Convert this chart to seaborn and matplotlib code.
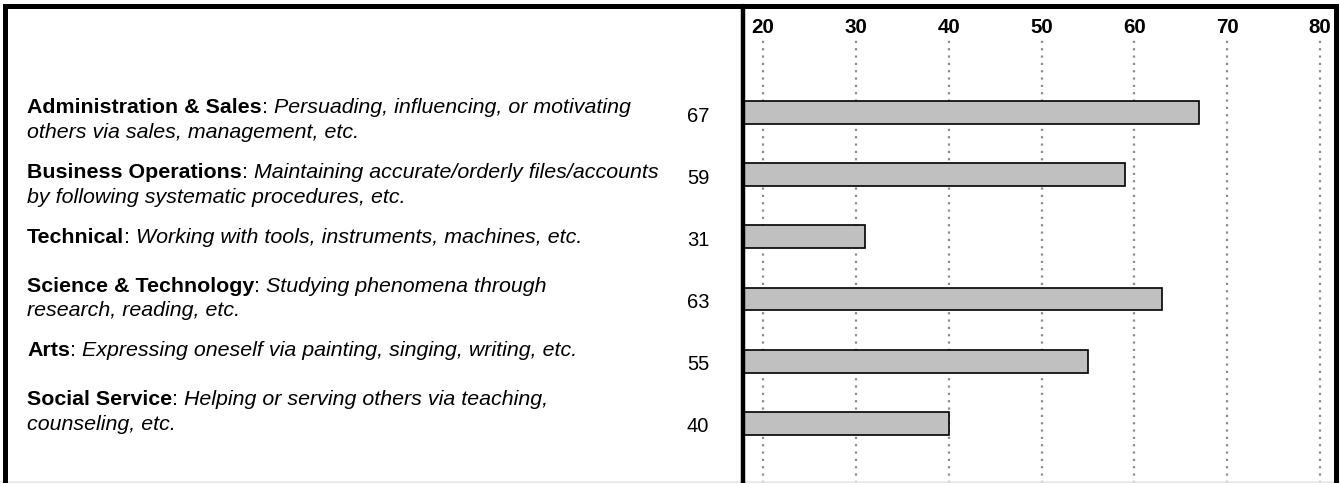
import numpy as np
import pandas as pd
import matplotlib.pyplot as plt
import seaborn as sns
from matplotlib.lines import Line2D

W, H = 1340, 483

# data
categories = ["Administration & Sales", "Business Operations", "Technical",
              "Science & Technology", "Arts", "Social Service"]
descriptions = [
    "Persuading, influencing, or motivating\nothers via sales, management, etc.",
    "Maintaining accurate/orderly files/accounts\nby following systematic procedures, etc.",
    "Working with tools, instruments, machines, etc.",
    "Studying phenomena through\nresearch, reading, etc.",
    "Expressing oneself via painting, singing, writing, etc.",
    "Helping or serving others via teaching,\ncounseling, etc.",
]
scores = [67, 59, 31, 63, 55, 40]
ticks = [20, 30, 40, 50, 60, 70, 80]

df = pd.DataFrame({"area": categories, "score": scores})

sns.set_theme(style="white")
plt.rcParams['font.family'] = ['Liberation Sans', 'DejaVu Sans']
plt.rcParams['text.color'] = 'black'
plt.rcParams['xtick.color'] = 'black'

fig = plt.figure(figsize=(W / 100, H / 100), dpi=100)
fig.patch.set_facecolor('white')
ax = fig.add_axes([743 / W, 0, (1335 - 743) / W, (H - 38) / H])

sns.barplot(data=df, x="score", y="area", orient="h", color="#c0c0c0",
            saturation=1, edgecolor="black", linewidth=1.2, width=0.37,
            ax=ax, zorder=3)
ax.set_xlim(17.85, 81.6)
ax.set_ylim(5.965, -1.206)
ax.set_xticks(ticks)
ax.xaxis.tick_top()
ax.tick_params(axis='x', length=0, pad=0.5, labelsize=14.8, colors='black')
for lab in ax.get_xticklabels():
    lab.set_fontweight('bold')
ax.set_yticks([])
ax.set_xlabel("")
ax.set_ylabel("")
for s in ax.spines.values():
    s.set_visible(False)
for t in ticks:
    ax.axvline(t, color="#8c8c8c", lw=1.6, ls=(0, (1, 2.3)), zorder=1)

# score numbers left of the bars
for i, v in enumerate(scores):
    ax.annotate(str(v), xy=(0, i), xycoords=('axes fraction', 'data'),
                xytext=(-45 * 0.72, -1.0), textcoords='offset points',
                ha='center', va='center_baseline', fontsize=14.5,
                annotation_clip=False)

# left text column: bold name + ": " + italic description,
# rows stacked like table cells (height depends on number of lines)
fig.canvas.draw()
r = fig.canvas.get_renderer()
fs = 15.4
lh = 25  # line height in px
y_top = 106  # centre of first line, px from top
for name, desc in zip(categories, descriptions):
    lines = desc.split("\n")
    y0 = H - (y_top + 7)  # baseline in px from bottom
    x = 27
    t = fig.text(x / W, y0 / H, name, fontsize=fs, fontweight='bold', va='baseline')
    x += t.get_window_extent(r).width
    t = fig.text(x / W, y0 / H, ": ", fontsize=fs, va='baseline')
    x += t.get_window_extent(r).width
    fig.text(x / W, y0 / H, lines[0], fontsize=fs, style='italic', va='baseline')
    for k, ln in enumerate(lines[1:], start=1):
        fig.text(27 / W, (y0 - k * lh) / H, ln, fontsize=fs, style='italic', va='baseline')
    y_top += 32 + 16.5 * len(lines)

# table borders
bw = 3.6
fig.add_artist(Line2D([0, 1], [1.5 / H, 1.5 / H], transform=fig.transFigure,
                      color='#e6e6e6', lw=1.2))
fig.add_artist(Line2D([5 / W, 5 / W, 1335.5 / W, 1335.5 / W],
                      [0, 1 - 5.5 / H, 1 - 5.5 / H, 0],
                      transform=fig.transFigure, color='black', lw=bw,
                      solid_joinstyle='miter'))
fig.add_artist(Line2D([743 / W, 743 / W], [0, 1 - 5.5 / H],
                      transform=fig.transFigure, color='black', lw=3.2))

fig.savefig("out.png", dpi=100)
